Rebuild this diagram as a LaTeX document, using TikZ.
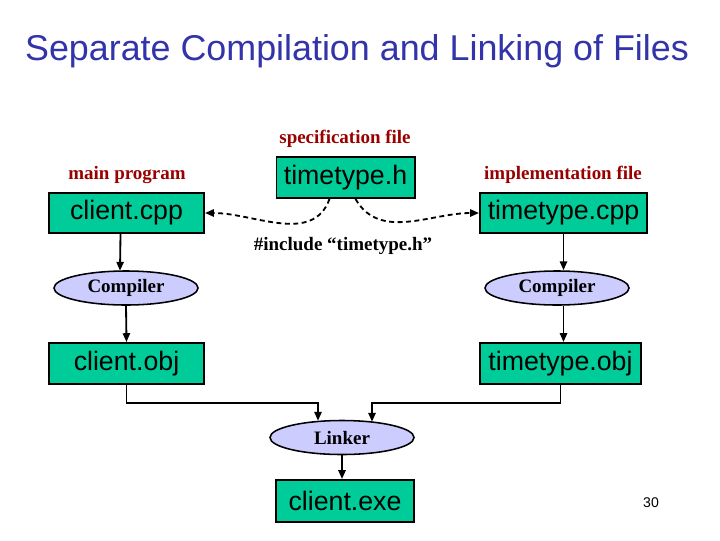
\documentclass[tikz,border=0pt]{standalone}
\usepackage{fontspec}
\setmainfont{Liberation Serif}
\newfontfamily\arialf{Liberation Sans}
\usetikzlibrary{arrows.meta,shapes.geometric,calc}
\definecolor{cT}{RGB}{51,51,170}
\definecolor{cR}{RGB}{153,0,0}
\definecolor{cG}{RGB}{0,204,153}
\definecolor{cL}{RGB}{204,204,255}
\tikzset{
  file/.style={draw, line width=1.4pt, fill=cG, minimum height=1cm, inner sep=1pt, font=\arialf\fontsize{19}{21}\selectfont},
  tool/.style={draw, line width=1.1pt, ellipse, fill=cL, minimum width=3.6cm, minimum height=0.85cm, inner sep=0pt, font=\bfseries\fontsize{13.5}{15}\selectfont},
  lbl/.style={text=cR, font=\bfseries\fontsize{13.5}{15}\selectfont},
  arr/.style={-{Triangle[length=2.2mm,width=1.8mm]}, line width=1.3pt},
  dsh/.style={-{Triangle[length=2.2mm,width=1.8mm]}, line width=1.3pt, dash pattern=on 3.5pt off 2.5pt}
}

\begin{document}
\begin{tikzpicture}[x=0.025cm, y=-0.025cm]
  \useasboundingbox (0,0) rectangle (720,540);
  \node[text=cT, font=\arialf\fontsize{25.5}{28}\selectfont] (title) at (357,51) {Separate Compilation and Linking of Files};

  % source files
  \node[file, minimum width=3.875cm] (ccpp) at (126.5,213) {client.cpp};
  \node[file, minimum width=3.45cm, minimum height=1.025cm] (th) at (345.5,177.5) {timetype.h};
  \node[file, minimum width=4.175cm] (tcpp) at (563.5,213) {timetype.cpp};
  \node[lbl] (lmain) at (127,175) {main program};
  \node[lbl] (lspec) at (345,139) {specification file};
  \node[lbl] (limpl) at (563,175) {implementation file};
  \node[font=\bfseries\fontsize{13.5}{15}\selectfont] (incl) at (343,246) {\#include “timetype.h”};

  \draw[dsh] (th.south) ++(-16,0) to[out=-110, in=0] (ccpp.east);
  \draw[dsh] (th.south) ++(10,0) to[out=-60, in=180] (tcpp.west);

  % compile
  \node[tool] (comp1) at (126,288) {Compiler};
  \node[tool] (comp2) at (557,288) {Compiler};
  \node[file, minimum width=3.875cm, minimum height=1.025cm] (cobj) at (126.5,363.5) {client.obj};
  \node[file, minimum width=4.025cm, minimum height=1.025cm] (tobj) at (560.5,363.5) {timetype.obj};

  \draw[arr] ($(ccpp.south)+(-6,0)$) -- ($(comp1.north)+(-6,0.5)$);
  \draw[arr] (tcpp.south) -- (tcpp.south |- comp2.north);
  \draw[arr] (comp1.south) -- (cobj.north);
  \draw[arr] (tcpp.south |- comp2.south) -- (tcpp.south |- tobj.north);

  % link
  \node[tool] (link) at (342,437.5) {Linker};
  \node[file, minimum width=3.45cm, minimum height=1.05cm] (cexe) at (345,501) {client.exe};

  \draw[arr] (cobj.south) -- ++(0,18) -| ($(link.north)+(-24,1)$);
  \draw[arr] (tobj.south) -- ++(0,18) -| ($(link.north)+(30,2)$);
  \draw[arr] (link.south) -- (link.south |- cexe.north);

  \node[font=\arialf\fontsize{10}{12}\selectfont] (pg) at (651,503) {30};
\end{tikzpicture}
\end{document}
